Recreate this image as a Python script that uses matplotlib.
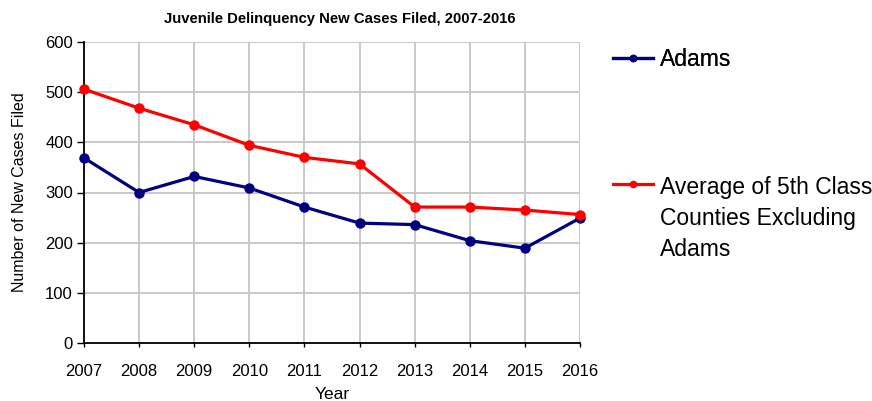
import matplotlib
matplotlib.use("Agg")
import matplotlib.pyplot as plt
from matplotlib.lines import Line2D

years = [2007, 2008, 2009, 2010, 2011, 2012, 2013, 2014, 2015, 2016]
adams = [369, 300, 332, 309, 271, 239, 236, 204, 189, 249]
avg5th = [506, 468, 435, 394, 370, 357, 271, 271, 265, 256]
yticks = [0, 100, 200, 300, 400, 500, 600]
title = "Juvenile Delinquency New Cases Filed, 2007-2016"
label_adams = "Adams"
label_avg = "Average of 5th Class\nCounties Excluding\nAdams"

plt.rcParams['font.family'] = ['Liberation Sans', 'DejaVu Sans']

W, H = 872, 401
fig = plt.figure(figsize=(W / 100, H / 100), dpi=100)
ax = fig.add_axes([84 / W, 1 - 343 / H, (580 - 84) / W, (343 - 42) / H])

navy = '#000080'
red = '#ff0000'
ax.plot(years, adams, color=navy, lw=2.3, marker='o', ms=6.5, zorder=3, clip_on=False)
ax.plot(years, avg5th, color=red, lw=2.3, marker='o', ms=6.5, zorder=3, clip_on=False)

ax.set_xlim(2007, 2016)
ax.set_ylim(0, 600)
ax.set_xticks(years)
ax.set_yticks(yticks)
ax.grid(True, color='#c8c8c8', lw=1.4)
ax.set_axisbelow(True)
for s in ['top', 'right']:
    ax.spines[s].set_visible(False)
for s in ['left', 'bottom']:
    ax.spines[s].set_color('black')
    ax.spines[s].set_linewidth(1.3)
ax.tick_params(axis='y', length=5, width=1, labelsize=12, pad=3)
ax.tick_params(axis='x', length=3, width=1, labelsize=12, pad=12)
ax.set_xlabel("Year", fontsize=12.5, labelpad=6)
ax.set_ylabel("Number of New Cases Filed", fontsize=11.5, labelpad=13)
fig.text(340 / W, 1 - 19 / H, title, ha='center', va='center',
         fontsize=10.7, fontweight='bold')

h1 = Line2D([], [], color=navy, lw=2.3, marker='o', ms=4.5)
h2 = Line2D([], [], color=red, lw=2.3, marker='o', ms=4.5)
common = dict(frameon=False, fontsize=16.5, handlelength=1.75,
              handletextpad=0.3, borderpad=0, borderaxespad=0)
leg1 = fig.legend([h1], [label_adams], loc='upper left',
                  bbox_to_anchor=(613 / W, 1 - 48 / H), **common)
leg2 = fig.legend([h2], [label_avg], loc='upper left',
                  bbox_to_anchor=(613 / W, 1 - 176 / H), **common)
for t in leg2.get_texts():
    t.set_linespacing(1.45)
for col in leg2._legend_handle_box.get_children():
    for hp in col.get_children():
        hp.align = 'top'
fig.add_artist(leg1)

fig.savefig("out.png", dpi=100)
